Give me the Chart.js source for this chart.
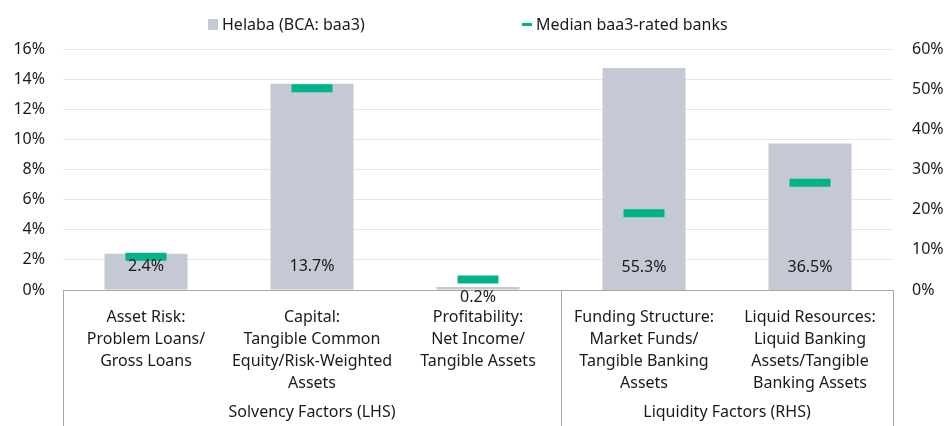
<!DOCTYPE html>
<html>
<head>
<meta charset="utf-8">
<script src="https://cdn.jsdelivr.net/npm/chart.js@4.4.1/dist/chart.umd.min.js"></script>
<style>
  body { margin: 0; background: #fff; }
  .wrap { position: relative; width: 947px; height: 426px; }
  canvas { display: block; }
  .legend { position: absolute; top: 13px; left: 0; width: 947px; height: 22px;
    font: 16px "Noto Sans", sans-serif; color: #1a1a1a; }
  .legend span { position: absolute; top: 0; line-height: 22px; white-space: nowrap; }
  .legend i { position: absolute; display: block; }
</style>
</head>
<body>
<div class="wrap">
  <canvas id="chart" width="947" height="426"></canvas>
  <div class="legend" id="legend"></div>
</div>
<script>
// Helaba BCA scorecard vs median baa3-rated banks
const categories = [
  ['Asset Risk:', 'Problem Loans/', 'Gross Loans'],
  ['Capital:', 'Tangible Common', 'Equity/Risk-Weighted', 'Assets'],
  ['Profitability:', 'Net Income/', 'Tangible Assets'],
  ['Funding Structure:', 'Market Funds/', 'Tangible Banking', 'Assets'],
  ['Liquid Resources:', 'Liquid Banking', 'Assets/Tangible', 'Banking Assets']
];
const groups = ['Solvency Factors (LHS)', 'Liquidity Factors (RHS)'];
const groupSpans = [[0, 2], [3, 4]]; // first/last category index of each group

// solvency ratios use the left axis, liquidity ratios the right one
const helabaLeft = [2.4, 13.7, 0.2, null, null];
const helabaRight = [null, null, null, 55.3, 36.5];
const medianLeft = [2.2, 13.4, 0.7, null, null];
const medianRight = [null, null, null, 19.1, 26.7];

const leftTicks = [0, 2, 4, 6, 8, 10, 12, 14, 16];
const rightTicks = [0, 10, 20, 30, 40, 50, 60];

const GREY = '#c5c9d4';
const GREEN = '#00b388';
const TEXT = '#1a1a1a';
const FONT = '"Noto Sans", sans-serif';

// legend drawn as html above the canvas
const legend = document.getElementById('legend');
legend.innerHTML =
  '<i style="left:208px;top:6px;width:10px;height:11px;background:' + GREY + '"></i>' +
  '<span style="left:222px">Helaba (BCA: baa3)</span>' +
  '<i style="left:522px;top:10px;width:10px;height:3px;background:' + GREEN + '"></i>' +
  '<span style="left:536px">Median baa3-rated banks</span>';

// value labels at the foot of each bar
const barLabels = {
  id: 'barLabels',
  afterDatasetsDraw(chart) {
    const ctx = chart.ctx;
    ctx.save();
    ctx.font = '16px ' + FONT;
    ctx.fillStyle = TEXT;
    ctx.textAlign = 'center';
    ctx.textBaseline = 'middle';
    [0, 1].forEach(di => {
      const meta = chart.getDatasetMeta(di);
      const data = chart.data.datasets[di].data;
      meta.data.forEach((bar, i) => {
        if (data[i] == null) return;
        const base = bar.base;
        const y = (base - bar.y) < 30 ? base + 8 : base - 23;
        ctx.fillText(data[i].toFixed(1) + '%', bar.x, y);
      });
    });
    ctx.restore();
  }
};

// group captions and separators under the category axis
const groupAxis = {
  id: 'groupAxis',
  afterDraw(chart) {
    const ctx = chart.ctx;
    const x = chart.scales.x;
    const top = chart.chartArea.bottom;
    const half = (x.getPixelForValue(1) - x.getPixelForValue(0)) / 2;
    ctx.save();
    ctx.strokeStyle = '#a6a6a6';
    ctx.lineWidth = 1;
    const edges = [x.getPixelForValue(0) - half];
    groupSpans.forEach(s => edges.push(x.getPixelForValue(s[1]) + half));
    edges.forEach(px => {
      const p = Math.round(px) + 0.5;
      ctx.beginPath();
      ctx.moveTo(p, top);
      ctx.lineTo(p, chart.height);
      ctx.stroke();
    });
    ctx.font = '16px ' + FONT;
    ctx.fillStyle = TEXT;
    ctx.textAlign = 'center';
    ctx.textBaseline = 'middle';
    groups.forEach((g, k) => {
      const cx = (x.getPixelForValue(groupSpans[k][0]) + x.getPixelForValue(groupSpans[k][1])) / 2;
      ctx.fillText(g, cx, 412);
    });
    ctx.restore();
  }
};

new Chart(document.getElementById('chart'), {
  data: {
    labels: categories,
    datasets: [
      { type: 'bar', label: 'Helaba (BCA: baa3)', data: helabaLeft, yAxisID: 'y',
        backgroundColor: GREY, barPercentage: 0.5, categoryPercentage: 1, grouped: false, order: 2 },
      { type: 'bar', label: 'Helaba (BCA: baa3)', data: helabaRight, yAxisID: 'y2',
        backgroundColor: GREY, barPercentage: 0.5, categoryPercentage: 1, grouped: false, order: 2 },
      { type: 'line', label: 'Median baa3-rated banks', data: medianLeft, yAxisID: 'y',
        showLine: false, pointStyle: 'line', pointRadius: 20.5, pointHoverRadius: 20.5,
        pointBorderWidth: 8, borderColor: GREEN, backgroundColor: GREEN, order: 1 },
      { type: 'line', label: 'Median baa3-rated banks', data: medianRight, yAxisID: 'y2',
        showLine: false, pointStyle: 'line', pointRadius: 20.5, pointHoverRadius: 20.5,
        pointBorderWidth: 8, borderColor: GREEN, backgroundColor: GREEN, order: 1 }
    ]
  },
  options: {
    responsive: false,
    animation: false,
    devicePixelRatio: 1,
    layout: { padding: { top: 49, left: 0, right: 0, bottom: 0 } },
    plugins: {
      tooltip: { enabled: false },
      legend: { display: false }
    },
    scales: {
      x: {
        type: 'category',
        grid: { display: false },
        border: { color: '#a6a6a6' },
        ticks: { color: TEXT, padding: 8, maxRotation: 0, autoSkip: false,
          font: { family: FONT, size: 16, lineHeight: 22 / 16 } },
        afterFit: s => { s.height = 136; }
      },
      y: {
        position: 'left',
        min: 0, max: 16,
        afterBuildTicks: s => { s.ticks = leftTicks.map(v => ({ value: v })); },
        grid: { color: '#e6e6e6', drawTicks: false },
        border: { display: false },
        ticks: { color: TEXT, padding: 18, autoSkip: false, callback: v => v + '%',
          font: { family: FONT, size: 16 } },
        afterFit: s => { s.width = 63; }
      },
      y2: {
        position: 'right',
        min: 0, max: 60,
        afterBuildTicks: s => { s.ticks = rightTicks.map(v => ({ value: v })); },
        grid: { display: false, drawTicks: false },
        border: { display: false },
        ticks: { color: TEXT, padding: 19, autoSkip: false, callback: v => v + '%',
          font: { family: FONT, size: 16 } },
        afterFit: s => { s.width = 54; }
      }
    }
  },
  plugins: [barLabels, groupAxis]
});
</script>
</body>
</html>
